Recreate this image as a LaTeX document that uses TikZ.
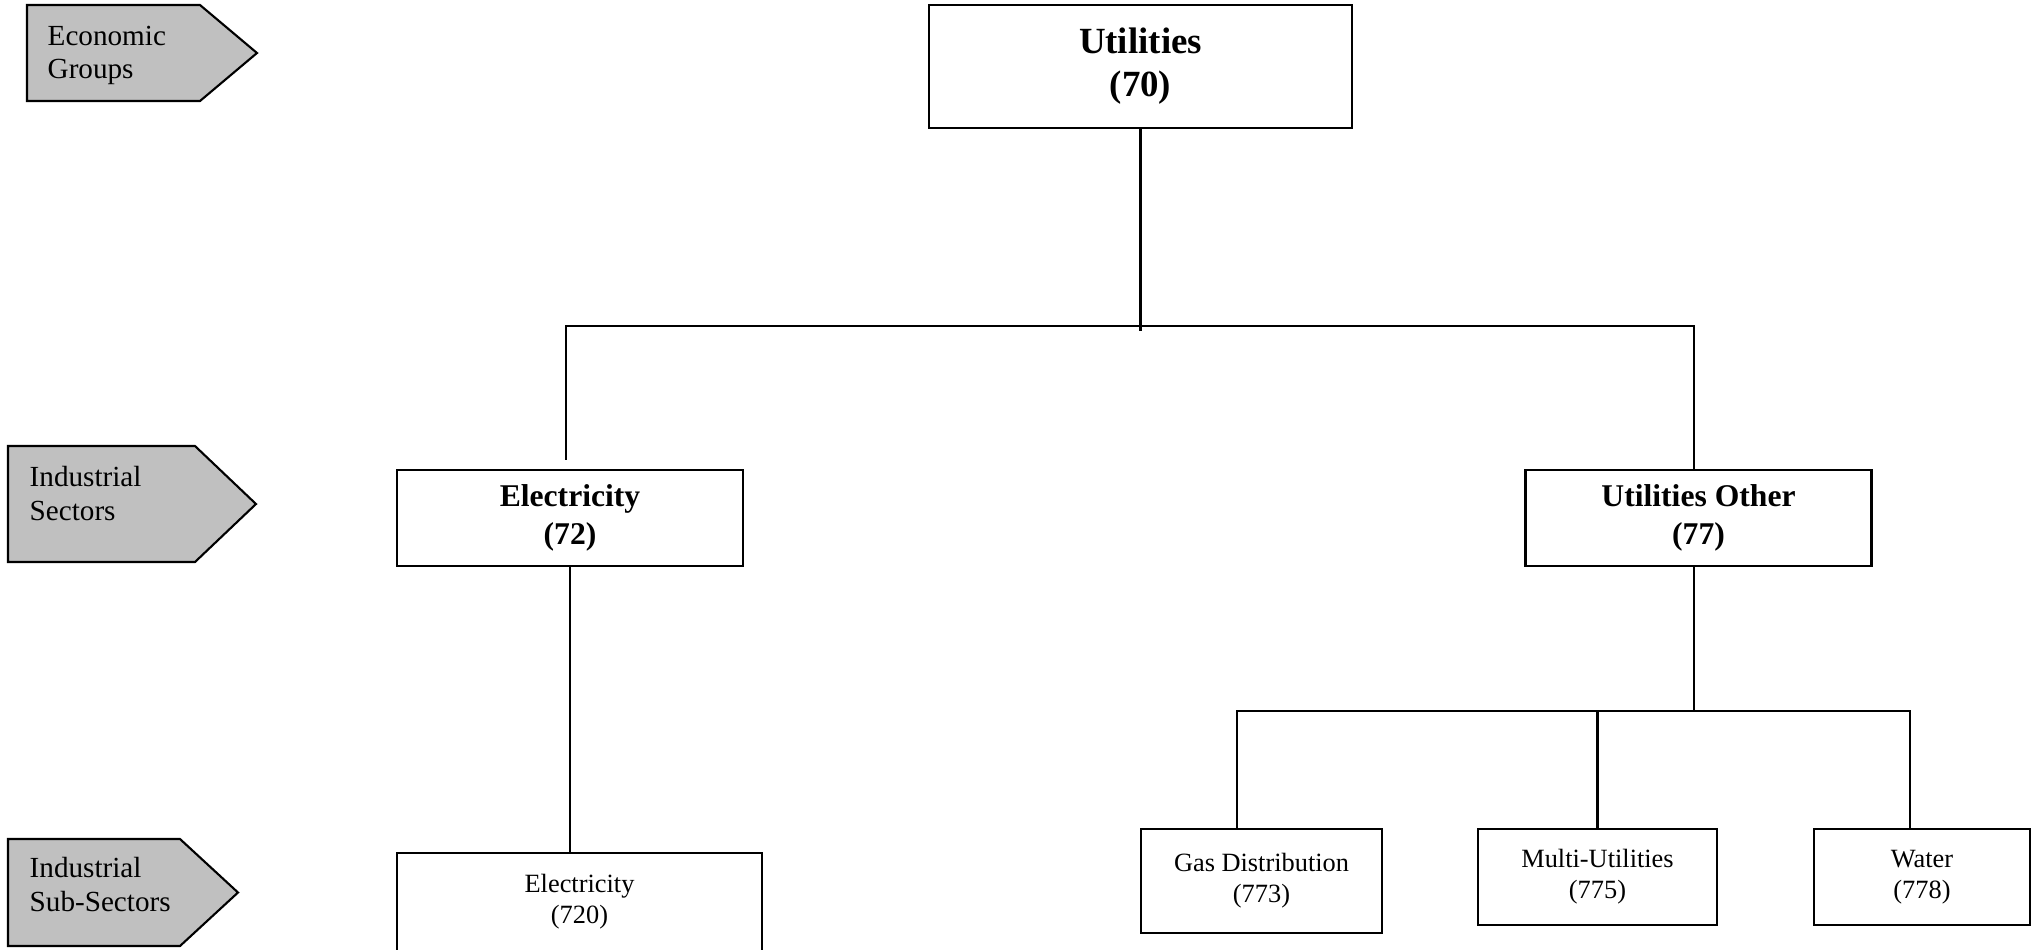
\documentclass[tikz,border=0pt]{standalone}
\usepackage{fontspec}
\setmainfont{Liberation Serif}
\usetikzlibrary{positioning}

\definecolor{tagfill}{HTML}{C0C0C0}

\tikzset{
    tagshape/.style={draw, fill=tagfill, line width=0.6pt},
    tagtext/.style={font=\fontsize{8.3}{9.6}\selectfont, align=left, inner sep=0pt, anchor=north west},
    groupbox/.style={draw, line width=0.6pt, align=center, inner sep=0pt,
        font=\bfseries\fontsize{10.5}{12.2}\selectfont, minimum width=4.23cm, minimum height=1.23cm},
    sectorbox/.style={draw, line width=0.6pt, align=center, inner sep=0pt,
        font=\bfseries\fontsize{9}{10.8}\selectfont, minimum width=3.46cm, minimum height=0.96cm},
    subbox/.style={draw, line width=0.6pt, align=center, inner sep=0pt,
        font=\fontsize{7.5}{8.9}\selectfont, minimum height=0.96cm},
    link/.style={line width=0.6pt}
}

\begin{document}
\begin{tikzpicture}
    \useasboundingbox (0, 0) rectangle (20.4, -9.49);

    % level tags on the left
    \foreach \l/\p/\t/\top/\bot in {0.27/2.00/2.57/0.05/1.01, 0.08/1.95/2.56/4.46/5.62, 0.08/1.80/2.38/8.39/9.46} {
        \draw[tagshape] (\l, -\top) -- (\p, -\top) -- (\t, {-(\top+\bot)/2}) -- (\p, -\bot) -- (\l, -\bot) -- cycle;
    }
    \node[tagtext] (tag1) at (0.47, -0.25) {Economic\\Groups};
    \node[tagtext] (tag2) at (0.29, -4.66) {Industrial\\Sectors};
    \node[tagtext] (tag3) at (0.29, -8.57) {Industrial\\Sub-Sectors};

    % boxes
    \node[groupbox] (util) at (11.405, -0.665) {Utilities\\(70)};

    \node[sectorbox] (elec) at (5.70, -5.18) {Electricity\\(72)};
    \node[sectorbox] (uoth) at (16.985, -5.18) {Utilities Other\\(77)};

    \node[subbox, minimum width=3.65cm, minimum height=0.98cm] (elecsub) at (5.795, -9.02) {Electricity\\(720)};
    \node[subbox, minimum width=2.41cm, minimum height=1.04cm] (gas) at (12.615, -8.81) {Gas Distribution\\(773)};
    \node[subbox, minimum width=2.39cm] (multi) at (15.975, -8.77) {Multi-Utilities\\(775)};
    \node[subbox, minimum width=2.16cm] (water) at (19.22, -8.77) {Water\\(778)};

    % connectors
    \path (util.south) ++(0, -1.97) coordinate (bus1);
    \draw[link] (util.south) -- ++(0, -2.02);
    \draw[link] ([xshift=-0.04cm, yshift=0.09cm]elec.north) |- (bus1) -| ([xshift=-0.045cm]uoth.north);
    \draw[link] (elec.south) -- (elec.south |- elecsub.north);

    \path ([xshift=-0.045cm]uoth.south) ++(0, -1.44) coordinate (bus2);
    \draw[link] ([xshift=-0.045cm]uoth.south) -- (bus2);
    \draw[link] ([xshift=-0.245cm]gas.north) |- (bus2) -| ([xshift=-0.12cm]water.north);
    \draw[link] (multi.north) -- (multi.north |- bus2);
\end{tikzpicture}
\end{document}
